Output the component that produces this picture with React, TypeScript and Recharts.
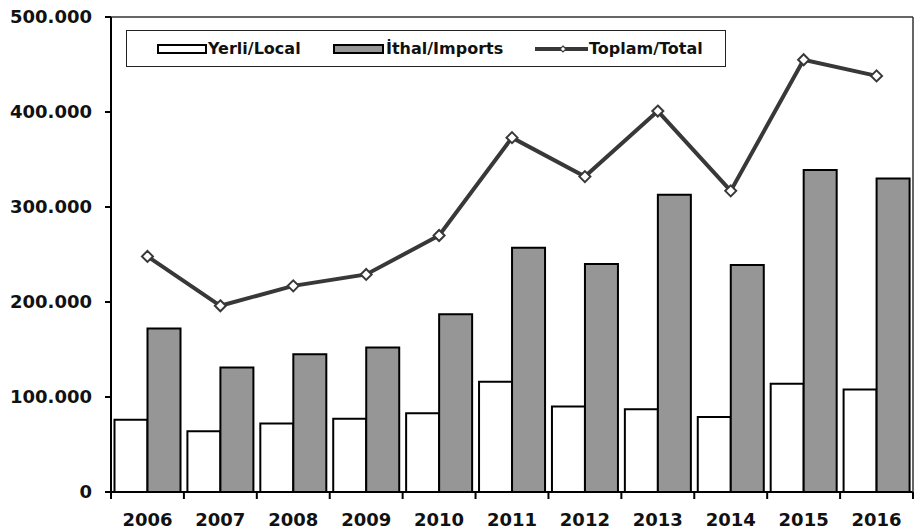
import React from "react";
import { ComposedChart, Bar, Line, XAxis, YAxis, ReferenceLine } from "recharts";

const years = ["2006", "2007", "2008", "2009", "2010", "2011", "2012", "2013", "2014", "2015", "2016"];
const local = [76000, 64000, 72000, 77000, 83000, 116000, 90000, 87000, 79000, 114000, 108000];
const imports = [172000, 131000, 145000, 152000, 187000, 257000, 240000, 313000, 239000, 339000, 330000];
const total = [248000, 196000, 217000, 229000, 270000, 373000, 332000, 401000, 317000, 455000, 438000];
const yTicks = [0, 100000, 200000, 300000, 400000, 500000];
const seriesNames = ["Yerli/Local", "İthal/Imports", "Toplam/Total"];

const data = years.map((year, i) => ({
  year,
  local: local[i],
  imports: imports[i],
  total: total[i],
}));

const W = 916;
const H = 530;
const LEFT = 111;
const RIGHT_W = 3;
const TOP = 17;
const BOTTOM_H = 38;
const BAND = (W - LEFT - RIGHT_W) / years.length;
const FONT = "'DejaVu Sans', Verdana, sans-serif";
const GRAY = "#969696";
const LINE = "#383838";

const fmt = (v: number) => (v === 0 ? "0" : (v / 1000).toFixed(0) + ".000");

function XTick({ x, y, payload, index }: any) {
  const last = index === years.length - 1;
  return (
    <g>
      <line x1={x - BAND / 2} x2={x - BAND / 2} y1={y} y2={y + 7} stroke="#000" strokeWidth={2} />
      {last && <line x1={x + BAND / 2} x2={x + BAND / 2} y1={y} y2={y + 7} stroke="#000" strokeWidth={2} />}
      <text x={x} y={y + 34} textAnchor="middle" fontFamily={FONT} fontWeight="bold" fontSize={18} fill="#111">
        {payload.value}
      </text>
    </g>
  );
}

function Diamond({ cx, cy, half = 5.5, sw = 2 }: any) {
  if (cx == null || cy == null) return null;
  return (
    <path
      d={`M${cx},${cy - half} L${cx + half},${cy} L${cx},${cy + half} L${cx - half},${cy} Z`}
      fill="#fff"
      stroke={LINE}
      strokeWidth={sw}
    />
  );
}

function LegendBox() {
  const text = { fontFamily: FONT, fontWeight: "bold" as const, fontSize: 16, fill: "#111" };
  return (
    <svg
      width={600}
      height={37}
      style={{ position: "absolute", left: 126, top: 30, border: "1.5px solid #222", boxSizing: "border-box", background: "#fff" }}
    >
      <rect x={31} y={14} width={48} height={8} fill="#fff" stroke="#000" strokeWidth={2} />
      <text x={81} y={23} {...text}>{seriesNames[0]}</text>
      <rect x={207} y={14} width={49} height={8} fill={GRAY} stroke="#000" strokeWidth={2} />
      <text x={259} y={23} {...text}>{seriesNames[1]}</text>
      <line x1={408} x2={461} y1={18} y2={18} stroke={LINE} strokeWidth={4} />
      <Diamond cx={436} cy={18} half={3} sw={1.2} />
      <text x={462} y={23} {...text}>{seriesNames[2]}</text>
    </svg>
  );
}

export default function App() {
  return (
    <div style={{ position: "absolute", left: 0, top: 0, width: W, height: H, background: "#fff" }}>
      <ComposedChart
        width={W}
        height={H}
        data={data}
        margin={{ top: TOP, right: 0, bottom: 0, left: 0 }}
        barCategoryGap={3.5}
        barGap={0}
      >
        <XAxis
          dataKey="year"
          height={BOTTOM_H}
          tickLine={false}
          tickSize={0}
          tickMargin={0}
          axisLine={{ stroke: "#000", strokeWidth: 2 }}
          tick={<XTick />}
          interval={0}
        />
        <YAxis
          yAxisId="left"
          width={LEFT}
          domain={[0, 500000]}
          ticks={yTicks}
          tickFormatter={fmt}
          tickSize={6}
          tickMargin={13}
          axisLine={{ stroke: "#000", strokeWidth: 2 }}
          tickLine={{ stroke: "#000", strokeWidth: 2 }}
          tick={{ fontFamily: FONT, fontWeight: "bold", fontSize: 18, fill: "#111" }}
          interval={0}
        />
        <YAxis
          yAxisId="right"
          orientation="right"
          width={RIGHT_W}
          domain={[0, 500000]}
          tick={false}
          tickLine={false}
          axisLine={{ stroke: "#333", strokeWidth: 1.5 }}
        />
        <ReferenceLine yAxisId="left" y={500000} stroke="#333" strokeWidth={1.5} />
        <Bar yAxisId="left" dataKey="local" name={seriesNames[0]} fill="#fff" stroke="#000" strokeWidth={2} isAnimationActive={false} />
        <Bar yAxisId="left" dataKey="imports" name={seriesNames[1]} fill={GRAY} stroke="#000" strokeWidth={2} isAnimationActive={false} />
        <Line
          yAxisId="left"
          dataKey="total"
          name={seriesNames[2]}
          type="linear"
          stroke={LINE}
          strokeWidth={4}
          dot={<Diamond />}
          activeDot={false}
          isAnimationActive={false}
        />
      </ComposedChart>
      <LegendBox />
    </div>
  );
}
